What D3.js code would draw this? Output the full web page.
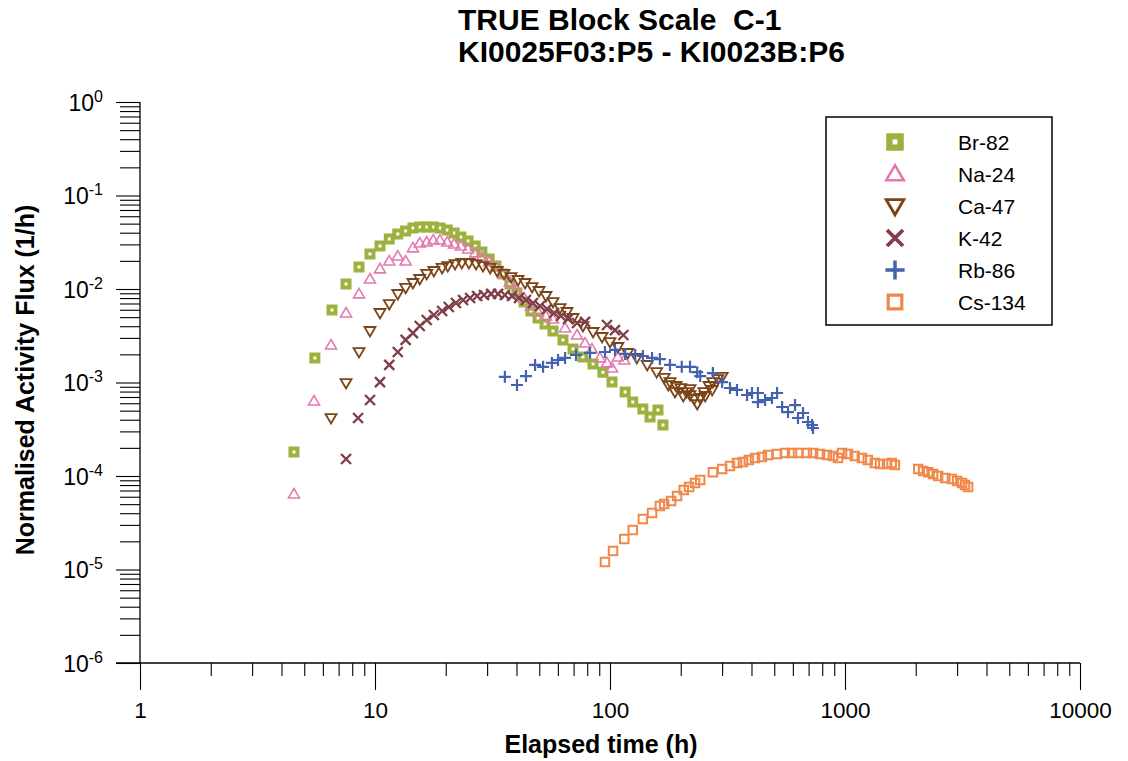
<!DOCTYPE html>
<html>
<head>
<meta charset="utf-8">
<script src="https://cdn.jsdelivr.net/npm/d3@7"></script>
<style>
  body { margin: 0; background: #fff; }
  svg { font-family: Arial, "Liberation Sans", sans-serif; }
</style>
</head>
<body>
<div class="chart"></div>
<script>
// [elapsed time (h), normalised activity flux (1/h)]
const br82 = [[4.52,1.81e-4],[5.55,1.83e-3],[6.56,5.96e-3],[7.53,1.13e-2],[8.55,1.72e-2],[9.52,2.37e-2],
  [10.5,2.88e-2],[11.5,3.43e-2],[12.5,3.88e-2],[13.5,4.17e-2],[14.5,4.49e-2],[15.5,4.61e-2],[16.6,4.61e-2],
  [17.7,4.61e-2],[18.9,4.49e-2],[20.3,4.28e-2],[21.7,3.97e-2],[23.2,3.60e-2],[24.9,3.26e-2],[26.7,2.88e-2],
  [28.5,2.49e-2],[30.6,2.09e-2],[32.7,1.76e-2],[35.1,1.45e-2],[37.5,1.13e-2],[40.2,9.06e-3],[43.1,7.26e-3],
  [46.1,5.82e-3],[49.4,4.90e-3],[52.9,4.22e-3],[57.2,3.56e-3],[63.1,2.85e-3],[69.6,2.28e-3],[76.7,1.87e-3],
  [84.7,1.58e-3],[93.3,1.29e-3],[102,1.01e-3],[116,7.91e-4],[125,6.18e-4],[138,5.21e-4],[148,4.28e-4],
  [160,5.08e-4],[168,3.51e-4]];
const na24 = [[4.52,6.42e-5],[5.50,6.34e-4],[6.50,2.52e-3],[7.53,5.54e-3],[8.55,8.85e-3],[9.52,1.28e-2],
  [10.5,1.64e-2],[11.5,1.99e-2],[12.5,2.25e-2],[13.5,1.99e-2],[14.5,2.75e-2],[15.5,3.10e-2],[16.6,3.18e-2],
  [17.7,3.34e-2],[18.9,3.34e-2],[20.3,3.18e-2],[21.7,3.03e-2],[23.2,2.88e-2],[24.9,2.68e-2],[26.7,2.43e-2],
  [28.5,2.20e-2],[30.6,1.95e-2],[32.7,1.72e-2],[35.1,1.45e-2],[37.5,1.19e-2],[40.2,9.76e-3],[43.1,8.01e-3],
  [46.1,6.58e-3],[49.4,5.68e-3],[53.4,5.14e-3],[57.2,4.78e-3],[64.4,3.83e-3],[72.4,3.22e-3],[78.3,2.64e-3],
  [83.8,2.28e-3],[90.6,1.83e-3],[97.1,1.62e-3],[102,1.43e-3],[108,1.87e-3],[115,1.74e-3]];
const ca47 = [[6.50,4.17e-4],[7.53,9.88e-4],[8.55,2.12e-3],[9.52,3.56e-3],[10.5,5.54e-3],[11.5,6.91e-3],
  [12.5,8.85e-3],[13.5,1.03e-2],[14.5,1.16e-2],[15.5,1.28e-2],[16.6,1.45e-2],[17.8,1.56e-2],[19.3,1.68e-2],
  [20.4,1.76e-2],[21.9,1.85e-2],[23.4,1.90e-2],[25.1,1.90e-2],[26.9,1.85e-2],[28.8,1.76e-2],[30.9,1.68e-2],
  [33.1,1.56e-2],[35.4,1.45e-2],[37.9,1.34e-2],[40.6,1.25e-2],[43.5,1.16e-2],[46.6,1.05e-2],[49.9,9.53e-3],
  [53.4,8.42e-3],[57.2,7.26e-3],[61.3,6.26e-3],[65.6,5.68e-3],[69.6,4.90e-3],[76.7,4.02e-3],[84.7,3.47e-3],
  [92.5,3.07e-3],[100,2.71e-3],[108,2.40e-3],[119,2.07e-3],[130,1.83e-3],[144,1.54e-3],[158,1.29e-3],
  [170,1.12e-3],[177,9.40e-4],[180,1.01e-3],[189,7.91e-4],[191,9.18e-4],[200,8.73e-4],[205,7.18e-4],
  [211,7.91e-4],[219,7.35e-4],[219,8.52e-4],[228,6.67e-4],[235,5.89e-4],[242,6.83e-4],[251,7.91e-4],
  [254,7.18e-4],[264,9.18e-4],[272,8.32e-4],[274,1.01e-3],[288,1.09e-3],[300,1.15e-3]];
const k42 = [[7.53,1.52e-4],[8.47,4.17e-4],[9.52,6.50e-4],[10.5,1.01e-3],[11.5,1.54e-3],[12.5,2.12e-3],
  [13.5,2.85e-3],[14.5,3.38e-3],[15.5,4.02e-3],[16.6,4.66e-3],[17.8,5.27e-3],[19.3,5.82e-3],[20.6,6.42e-3],
  [22.1,7.08e-3],[23.7,7.63e-3],[25.4,8.01e-3],[27.2,8.42e-3],[29.1,8.63e-3],[31.2,8.85e-3],[33.4,8.85e-3],
  [35.7,8.63e-3],[38.3,8.42e-3],[41.0,8.01e-3],[43.9,7.63e-3],[47.0,7.08e-3],[50.4,6.58e-3],[53.9,6.11e-3],
  [57.8,5.54e-3],[61.8,5.14e-3],[66.3,4.78e-3],[72.4,4.33e-3],[78.3,4.44e-3],[97.1,4.12e-3],[105,3.64e-3],
  [114,3.22e-3]];
const rb86 = [[35.7,1.15e-3],[40.2,9.40e-4],[43.9,1.17e-3],[48.0,1.54e-3],[51.9,1.47e-3],[56.6,1.62e-3],
  [60.1,1.74e-3],[64.4,1.83e-3],[71.7,1.97e-3],[82.2,2.07e-3],[95.2,2.12e-3],[105,2.23e-3],[116,2.02e-3],
  [128,1.97e-3],[138,1.92e-3],[151,1.83e-3],[163,1.78e-3],[180,1.54e-3],[202,1.47e-3],[219,1.47e-3],
  [235,1.29e-3],[242,1.17e-3],[274,1.26e-3],[300,1.01e-3],[324,8.73e-4],[347,8.32e-4],[383,7.35e-4],
  [402,7.72e-4],[426,7.72e-4],[426,6.18e-4],[457,6.50e-4],[489,6.83e-4],[514,7.72e-4],[540,5.47e-4],
  [572,4.83e-4],[613,5.74e-4],[631,4.17e-4],[663,4.72e-4],[696,3.78e-4],[724,3.51e-4],[731,3.26e-4]];
const cs134 = [[95.2,1.20e-5],[103,1.58e-5],[115,2.12e-5],[125,2.64e-5],[138,3.47e-5],[151,4.02e-5],
  [163,4.78e-5],[170,5.02e-5],[182,5.41e-5],[193,6.11e-5],[206,7.08e-5],[217,7.63e-5],[230,8.42e-5],
  [242,9.06e-5],[274,1.10e-4],[300,1.19e-4],[324,1.28e-4],[347,1.38e-4],[368,1.41e-4],[390,1.48e-4],
  [414,1.56e-4],[443,1.60e-4],[470,1.68e-4],[514,1.72e-4],[555,1.76e-4],[595,1.76e-4],[631,1.76e-4],
  [689,1.76e-4],[731,1.76e-4],[783,1.72e-4],[838,1.68e-4],[889,1.64e-4],[934,1.56e-4],[971,1.76e-4],
  [1030,1.72e-4],[1100,1.64e-4],[1180,1.56e-4],[1250,1.48e-4],[1340,1.38e-4],[1410,1.34e-4],[1510,1.34e-4],
  [1580,1.38e-4],[1630,1.31e-4],[2050,1.19e-4],[2150,1.13e-4],[2260,1.10e-4],[2370,1.05e-4],[2490,1.00e-4],
  [2670,9.52e-5],[2850,9.29e-5],[3000,8.85e-5],[3150,8.42e-5],[3240,8.01e-5],[3340,7.63e-5]];

const seriesNames = ['Br-82', 'Na-24', 'Ca-47', 'K-42', 'Rb-86', 'Cs-134'];
const seriesData = [br82, na24, ca47, k42, rb86, cs134];
const xTickLabels = ['1', '10', '100', '1000', '10000'];
const yTickExponents = [0, -1, -2, -3, -4, -5, -6];
const titleLines = ['TRUE Block Scale  C-1', 'KI0025F03:P5 - KI0023B:P6'];

// marker look per series
const markers = [
  {shape: 'square', size: 7, stroke: 4, color: '#9db13f'},
  {shape: 'up', size: 11, stroke: 1.6, color: '#e27ab0'},
  {shape: 'down', size: 11, stroke: 1.8, color: '#7b4518'},
  {shape: 'cross', size: 10, stroke: 2.4, color: '#7e3f47'},
  {shape: 'plus', size: 12, stroke: 2.2, color: '#4462b0'},
  {shape: 'square', size: 8.5, stroke: 2, color: '#f0884a'}
];

function markerPath(shape, s) {
  const h = s / 2;
  if (shape === 'square') return `M${-h},${-h}h${s}v${s}h${-s}Z`;
  if (shape === 'up') return `M0,${-s * 0.5}L${h},${s * 0.36}L${-h},${s * 0.36}Z`;
  if (shape === 'down') return `M0,${s * 0.5}L${h},${-s * 0.36}L${-h},${-s * 0.36}Z`;
  if (shape === 'cross') return `M${-h},${-h}L${h},${h}M${-h},${h}L${h},${-h}`;
  return `M${-h},0H${h}M0,${-h}V${h}`;
}

const width = 1128, height = 761;
let svg = d3.select('.chart')
  .append('svg')
    .attr('width', width)
    .attr('height', height);

let xScale = d3.scaleLog().domain([1, 10000]).range([140, 1080]);
let yScale = d3.scaleLog().domain([1e-6, 1]).range([663, 102]);

// minor tick positions 2..9 in each decade
const xMinor = [], yMinor = [];
for (let p = 0; p < 4; p++) for (let k = 2; k < 10; k++) xMinor.push(k * Math.pow(10, p));
for (let p = -6; p < 0; p++) for (let k = 2; k < 10; k++) yMinor.push(k * Math.pow(10, p));

const y0 = yScale(1e-6);

svg.append('g')
  .attr('transform', `translate(0, ${y0})`)
  .call(d3.axisBottom(xScale).tickValues(xMinor).tickSize(13).tickFormat(''))
  .call(g => g.select('.domain').remove());

let xAxisG = svg.append('g')
  .attr('transform', `translate(0, ${y0})`)
  .call(d3.axisBottom(xScale)
    .tickValues(xTickLabels.map(Number))
    .tickSize(27)
    .tickPadding(12)
    .tickFormat((d, i) => xTickLabels[i]))
  .call(g => g.select('.domain').remove());
xAxisG.attr('font-size', 22.5).attr('font-family', null);

svg.append('g')
  .attr('transform', `translate(${xScale(1)}, 0)`)
  .call(d3.axisLeft(yScale).tickValues(yMinor).tickSize(20).tickFormat(''))
  .call(g => g.select('.domain').remove());

let yAxisG = svg.append('g')
  .attr('transform', `translate(${xScale(1)}, 0)`)
  .call(d3.axisLeft(yScale)
    .tickValues(yTickExponents.map(e => Math.pow(10, e)))
    .tickSize(24)
    .tickPadding(13)
    .tickFormat(''))
  .call(g => g.select('.domain').remove());
yAxisG.attr('font-size', 23).attr('font-family', null);
yAxisG.selectAll('.tick text').each(function(d, i) {
  const t = d3.select(this).attr('dy', '0.36em');
  t.append('tspan').text('10');
  t.append('tspan').attr('dy', '-0.55em').attr('font-size', 16).text(String(yTickExponents[i]));
});

svg.selectAll('.tick line').attr('stroke', '#000').attr('stroke-width', 1.1);

// axis lines
svg.append('line')
  .attr('x1', xScale(1) - 24).attr('x2', xScale(10000))
  .attr('y1', y0).attr('y2', y0)
  .attr('stroke', '#000').attr('stroke-width', 1.3);
svg.append('line')
  .attr('x1', xScale(1)).attr('x2', xScale(1))
  .attr('y1', yScale(1)).attr('y2', y0)
  .attr('stroke', '#000').attr('stroke-width', 1.3);

// data
seriesData.forEach((data, i) => {
  const m = markers[i];
  svg.append('g')
    .selectAll('path')
    .data(data)
    .join('path')
      .attr('d', markerPath(m.shape, m.size))
      .attr('transform', d => `translate(${xScale(d[0])}, ${yScale(d[1])})`)
      .attr('fill', 'none')
      .attr('stroke', m.color)
      .attr('stroke-width', m.stroke);
});

// legend
let legend = svg.append('g');
legend.append('rect')
  .attr('x', 826).attr('y', 117)
  .attr('width', 226).attr('height', 208)
  .attr('fill', '#fff')
  .attr('stroke', '#000')
  .attr('stroke-width', 1.5);
seriesNames.forEach((name, i) => {
  const m = markers[i];
  const yy = 142 + i * 32;
  legend.append('path')
    .attr('d', markerPath(m.shape, m.size))
    .attr('transform', `translate(895, ${yy}) scale(1.6)`)
    .attr('fill', 'none')
    .attr('stroke', m.color)
    .attr('stroke-width', m.stroke);
  legend.append('text')
    .attr('x', 958).attr('y', yy + 7.5)
    .attr('font-size', 21)
    .text(name);
});

// titles
svg.selectAll('.title')
  .data(titleLines)
  .join('text')
    .attr('class', 'title')
    .attr('x', 458)
    .attr('y', (d, i) => 30 + i * 32)
    .attr('font-size', 30)
    .attr('font-weight', 'bold')
    .style('white-space', 'pre')
    .text(d => d);

svg.append('text')
  .attr('x', 601).attr('y', 753)
  .attr('text-anchor', 'middle')
  .attr('font-size', 25)
  .attr('font-weight', 'bold')
  .text('Elapsed time (h)');

svg.append('text')
  .attr('transform', 'translate(34, 380) rotate(-90)')
  .attr('text-anchor', 'middle')
  .attr('font-size', 25)
  .attr('font-weight', 'bold')
  .text('Normalised Activity Flux (1/h)');
</script>
</body>
</html>
